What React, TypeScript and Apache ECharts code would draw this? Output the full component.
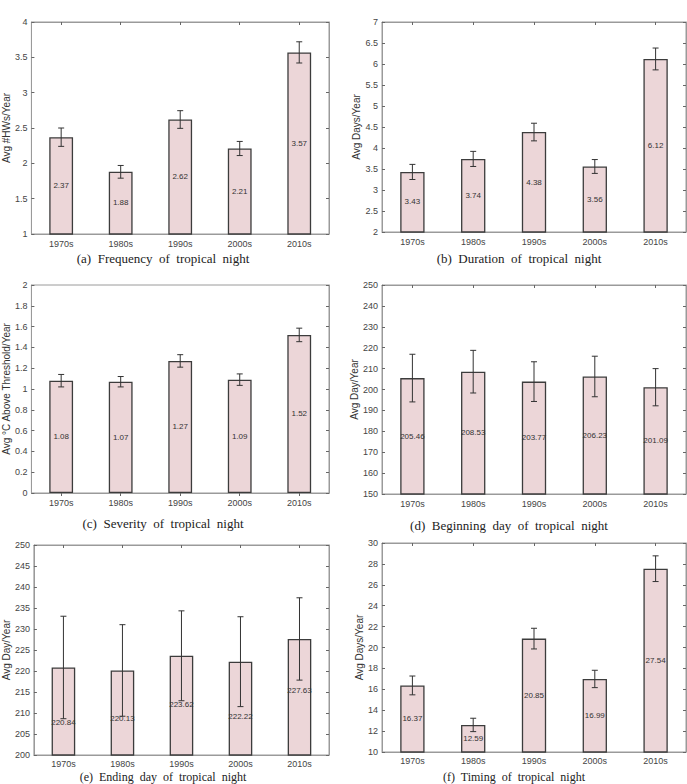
import React, { useEffect, useRef } from "react";
import * as echarts from "echarts";

const categories = ["1970s", "1980s", "1990s", "2000s", "2010s"];

const freqValues = [2.37, 1.88, 2.62, 2.21, 3.57];
const freqErr = [0.13, 0.09, 0.125, 0.1, 0.15];

const durValues = [3.43, 3.74, 4.38, 3.56, 6.12];
const durErr = [0.18, 0.18, 0.21, 0.165, 0.26];

const sevValues = [1.08, 1.07, 1.27, 1.09, 1.52];
const sevErr = [0.06, 0.05, 0.06, 0.055, 0.065];

const begValues = [205.46, 208.53, 203.77, 206.23, 201.09];
const begErr = [11.4, 10.2, 9.5, 9.7, 8.9];

const endValues = [220.84, 220.13, 223.62, 222.22, 227.63];
const endErr = [12.2, 10.9, 10.7, 10.7, 9.8];
const endLabelAt = [207.7, 208.7, 212.1, 209.2, 215.3];

const timValues = [16.37, 12.59, 20.85, 16.99, 27.54];
const timErr = [0.9, 0.64, 0.99, 0.83, 1.23];

const captions = [
  "(a)  Frequency  of  tropical  night",
  "(b)  Duration  of  tropical  night",
  "(c)  Severity  of  tropical  night",
  "(d)  Beginning  day  of  tropical  night",
  "(e)  Ending  day  of  tropical  night",
  "(f)  Timing  of  tropical  night",
];

const yNames = [
  "Avg #HWs/Year",
  "Avg Days/Year",
  "Avg \u00B0C Above Threshold/Year",
  "Avg Day/Year",
  "Avg Day/Year",
  "Avg Days/Year",
];

const yRanges = [
  [1, 4, 0.5],
  [2, 7, 0.5],
  [0, 2, 0.2],
  [150, 250, 10],
  [200, 250, 5],
  [10, 30, 2],
];

const panels = [
  { values: freqValues, err: freqErr, labelAt: null as number[] | null },
  { values: durValues, err: durErr, labelAt: null },
  { values: sevValues, err: sevErr, labelAt: null },
  { values: begValues, err: begErr, labelAt: null },
  { values: endValues, err: endErr, labelAt: endLabelAt },
  { values: timValues, err: timErr, labelAt: null },
];

const layout = [
  { left: 26, top: 22, width: 303, height: 212, gap: 16, cx: 163, cy: 258, fs: 13 },
  { left: 382, top: 22, width: 304, height: 210, gap: 17, cx: 519, cy: 258, fs: 13 },
  { left: 26, top: 285, width: 303, height: 208, gap: 17, cx: 163, cy: 523, fs: 13 },
  { left: 382, top: 285, width: 304, height: 209, gap: 20, cx: 509, cy: 525, fs: 13 },
  { left: 26, top: 545, width: 303, height: 210, gap: 22, cx: 163, cy: 777, fs: 12 },
  { left: 382, top: 543, width: 304, height: 209, gap: 15, cx: 514, cy: 777, fs: 12 },
];

const FONT = "Liberation Sans, Arial, sans-serif";

export default function App() {
  const ref = useRef<HTMLDivElement>(null);
  useEffect(() => {
    if (!ref.current) return;
    const chart = echarts.init(ref.current, null, { renderer: "svg" });
    const grid: any[] = [];
    const xAxis: any[] = [];
    const yAxis: any[] = [];
    const series: any[] = [];
    const graphic: any[] = [];

    panels.forEach((p, i) => {
      const L = layout[i];
      const [mn, mx, iv] = yRanges[i];
      grid.push({
        left: L.left,
        top: L.top,
        width: L.width,
        height: L.height,
        show: true,
        borderColor: "#9a9a9a",
        borderWidth: 1,
        backgroundColor: "#fff",
      });
      const tick = { show: true, inside: true, length: 3, alignWithLabel: true, lineStyle: { color: "#666", width: 1 } };
      xAxis.push({
        type: "category",
        gridIndex: i,
        position: "bottom",
        data: categories,
        axisLine: { show: true, lineStyle: { color: "#9a9a9a" } },
        axisTick: tick,
        axisLabel: { fontSize: 9, color: "#444", margin: i >= 4 ? 4 : 5, fontFamily: FONT },
        splitLine: { show: false },
      });
      xAxis.push({
        type: "category",
        gridIndex: i,
        position: "top",
        data: categories,
        axisLine: { show: true, lineStyle: { color: "#9a9a9a" } },
        axisTick: tick,
        axisLabel: { show: false },
        splitLine: { show: false },
      });
      const ytick = { show: true, inside: true, length: 3, lineStyle: { color: "#666", width: 1 } };
      yAxis.push({
        type: "value",
        gridIndex: i,
        position: "left",
        min: mn,
        max: mx,
        interval: iv,
        axisLine: { show: true, lineStyle: { color: "#9a9a9a" } },
        axisTick: ytick,
        axisLabel: { fontSize: 9, color: "#444", margin: 4, fontFamily: FONT },
        splitLine: { show: false },
        name: yNames[i],
        nameLocation: "middle",
        nameGap: L.gap,
        nameTextStyle: { fontSize: 10, color: "#333", fontFamily: FONT },
      });
      yAxis.push({
        type: "value",
        gridIndex: i,
        position: "right",
        min: mn,
        max: mx,
        interval: iv,
        axisLine: { show: true, lineStyle: { color: "#9a9a9a" } },
        axisTick: ytick,
        axisLabel: { show: false },
        splitLine: { show: false },
      });
      series.push({
        type: "bar",
        xAxisIndex: 2 * i,
        yAxisIndex: 2 * i,
        data: p.values,
        barWidth: "40%",
        itemStyle: { color: "#ecd6d8", borderColor: "#3c3c3c", borderWidth: 1.3 },
        clip: true,
      });
      series.push({
        type: "custom",
        xAxisIndex: 2 * i,
        yAxisIndex: 2 * i,
        data: p.values.map((v, k) => [k, v, p.err[k]]),
        encode: { x: 0, y: 1 },
        z: 5,
        renderItem: (params: any, api: any) => {
          const k = api.value(0);
          const v = api.value(1);
          const e = api.value(2);
          const top = api.coord([k, v + e]);
          const bot = api.coord([k, v - e]);
          const st = { stroke: "#333", lineWidth: 1 };
          return {
            type: "group",
            children: [
              { type: "line", shape: { x1: top[0], y1: top[1], x2: bot[0], y2: bot[1] }, style: st },
              { type: "line", shape: { x1: top[0] - 3, y1: top[1], x2: top[0] + 3, y2: top[1] }, style: st },
              { type: "line", shape: { x1: bot[0] - 3, y1: bot[1], x2: bot[0] + 3, y2: bot[1] }, style: st },
            ],
          };
        },
      });
      series.push({
        type: "custom",
        xAxisIndex: 2 * i,
        yAxisIndex: 2 * i,
        data: p.values.map((v, k) => [k, p.labelAt ? p.labelAt[k] : (mn + v) / 2, v]),
        encode: { x: 0, y: 1 },
        z: 6,
        renderItem: (params: any, api: any) => {
          const k = api.value(0);
          const y = api.value(1);
          const v = api.value(2);
          const c = api.coord([k, y]);
          return {
            type: "text",
            x: c[0],
            y: c[1],
            style: {
              text: v.toFixed(2),
              align: "center",
              verticalAlign: "middle",
              fontSize: 8,
              fill: "#333",
              fontFamily: FONT,
            },
          };
        },
      });
      graphic.push({
        type: "text",
        x: L.cx,
        y: L.cy,
        style: {
          text: captions[i],
          align: "center",
          verticalAlign: "middle",
          fontSize: L.fs,
          fill: "#222",
          fontFamily: "Liberation Serif, DejaVu Serif, serif",
        },
      });
    });

    chart.setOption({
      animation: false,
      backgroundColor: "#fff",
      grid,
      xAxis,
      yAxis,
      series,
      graphic,
    });
    return () => chart.dispose();
  }, []);
  return (
    <div
      ref={ref}
      style={{ position: "fixed", left: 0, top: 0, width: 687, height: 784 }}
    />
  );
}
